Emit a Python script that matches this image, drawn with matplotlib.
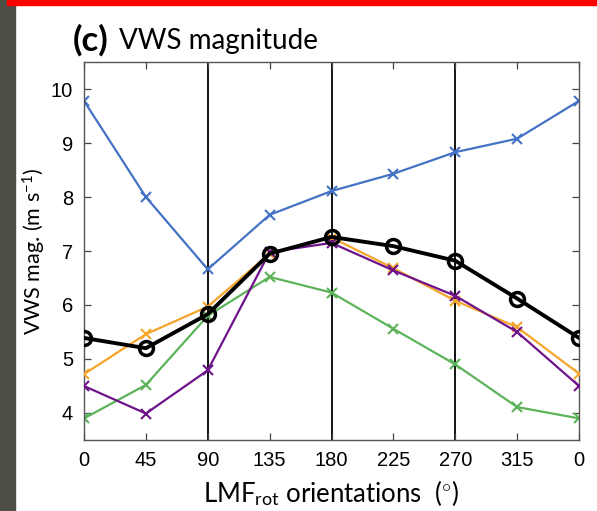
import numpy as np
import matplotlib.pyplot as plt
from matplotlib.patches import Rectangle

# orientation angles (deg) and tick labels
angles = [0, 45, 90, 135, 180, 225, 270, 315, 360]
tick_labels = ['0', '45', '90', '135', '180', '225', '270', '315', '0']
yticks = [4, 5, 6, 7, 8, 9, 10]

# VWS magnitude (m/s)
blue = [9.78, 8.0, 6.66, 7.67, 8.11, 8.43, 8.83, 9.08, 9.78]
green = [3.90, 4.52, 5.80, 6.52, 6.23, 5.56, 4.90, 4.11, 3.90]
orange = [4.72, 5.46, 5.97, 6.95, 7.25, 6.68, 6.08, 5.59, 4.73]
purple = [4.50, 3.99, 4.79, 6.98, 7.15, 6.64, 6.17, 5.50, 4.50]
black = [5.39, 5.20, 5.83, 6.95, 7.26, 7.09, 6.82, 6.12, 5.39]
vlines = [90, 180, 270]

plt.rcParams['mathtext.fontset'] = 'custom'
plt.rcParams['mathtext.rm'] = 'Lato'
plt.rcParams['mathtext.it'] = 'Lato:italic'

fig = plt.figure(figsize=(5.97, 5.11), dpi=100)

# slide decorations: dark strip on left, red bar on top
fig.patches.append(Rectangle((0, 0), 15/597, 1, transform=fig.transFigure,
                             color='#4c4d43', zorder=0))
fig.patches.append(Rectangle((7/597, 1-5/511), 1, 5/511, transform=fig.transFigure,
                             color='#ff0000', zorder=1))

ax = fig.add_axes([84/597, 1-440/511, 495/597, 378/511])

for v in vlines:
    ax.axvline(v, color='black', lw=1.3, zorder=1)

ax.plot(angles, blue, color='#4472c4', lw=1.6, marker='x', ms=7, mew=1.5, zorder=2)
ax.plot(angles, green, color='#5db35a', lw=1.6, marker='x', ms=7, mew=1.5, zorder=2)
ax.plot(angles, orange, color='#f5a62a', lw=1.6, marker='x', ms=7, mew=1.5, zorder=3)
ax.plot(angles, purple, color='#6e138a', lw=1.6, marker='x', ms=7, mew=1.5, zorder=4)
ax.plot(angles, black, color='black', lw=2.8, marker='o', ms=10, mew=2.5,
        mfc='none', zorder=5)

ax.set_xlim(0, 360)
ax.set_ylim(3.5, 10.5)
ax.set_xticks(angles)
ax.set_xticklabels(tick_labels)
ax.set_yticks(yticks)
ax.tick_params(direction='in', length=5, width=0.9, top=True, right=True,
               labelsize=14.5, pad=8, color='#444444')
for lab in ax.get_xticklabels() + ax.get_yticklabels():
    lab.set_family('Liberation Sans')
for s in ax.spines.values():
    s.set_color('#555555')
    s.set_linewidth(1.0)

fig.text(73/597, 1-40/511, '(c)', fontsize=25, fontweight='bold',
         family='Lato', va='center', ha='left')
fig.text(119/597, 1-41/511, 'VWS magnitude', fontsize=20,
         family='Lato', va='center', ha='left')
fig.text(34/597, 1-251/511, 'VWS mag. (m s$^{-1}$)', fontsize=15.5,
         family='Lato', rotation=90, va='center', ha='center')
fig.text(331/597, 1-493/511, 'LMF$_{\\mathrm{rot}}$ orientations  ($^{\\circ}$)',
         fontsize=18.5, family='Lato', va='center', ha='center')

fig.savefig('out.png', dpi=100)
